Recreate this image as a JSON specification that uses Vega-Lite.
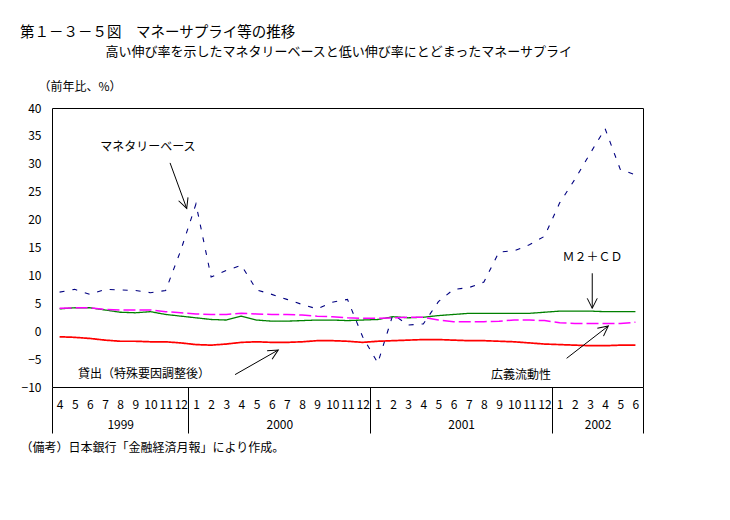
{
  "$schema": "https://vega.github.io/schema/vega-lite/v6.json",
  "width": 591,
  "height": 279,
  "autosize": "none",
  "padding": {"left": 52, "top": 108, "right": 87, "bottom": 133},
  "background": "white",
  "config": {
    "view": {"stroke": "black", "strokeWidth": 1},
    "font": "Noto Sans CJK JP",
    "axis": {"labelFont": "Noto Sans CJK JP", "titleFont": "Noto Sans CJK JP", "labelColor": "black", "titleColor": "black", "labelFontSize": 12, "titleFontWeight": "normal", "titleFontSize": 12},
    "axisY": {
      "title": "（前年比、%）", "titleAngle": 0, "titleAlign": "left", "titleBaseline": "middle",
      "titleX": -14, "titleY": -22,
      "ticks": false, "domain": false, "grid": false, "labelPadding": 11,
      "labelFlush": false, "labelOverlap": false
    }
  },
  "title": {
    "text": "第１－３－５図　マネーサプライ等の推移",
    "anchor": "start",
    "frame": "group",
    "dx": -32,
    "offset": 5,
    "font": "Noto Sans CJK JP",
    "fontSize": 14.5,
    "fontWeight": "normal",
    "color": "black"
  },
  "datasets": {
    "series": [
      {"t": 0, "ym": "1999-04", "mb": 7.0, "m2": 4.0, "broad": 4.1, "loan": -1.0},
      {"t": 1, "ym": "1999-05", "mb": 7.5, "m2": 4.2, "broad": 4.2, "loan": -1.1},
      {"t": 2, "ym": "1999-06", "mb": 6.6, "m2": 4.2, "broad": 4.2, "loan": -1.3},
      {"t": 3, "ym": "1999-07", "mb": 7.5, "m2": 3.8, "broad": 3.9, "loan": -1.6},
      {"t": 4, "ym": "1999-08", "mb": 7.4, "m2": 3.4, "broad": 3.8, "loan": -1.8},
      {"t": 5, "ym": "1999-09", "mb": 7.3, "m2": 3.3, "broad": 3.8, "loan": -1.8},
      {"t": 6, "ym": "1999-10", "mb": 6.9, "m2": 3.5, "broad": 3.8, "loan": -1.9},
      {"t": 7, "ym": "1999-11", "mb": 7.3, "m2": 3.0, "broad": 3.5, "loan": -1.9},
      {"t": 8, "ym": "1999-12", "mb": 14.5, "m2": 2.7, "broad": 3.3, "loan": -2.1},
      {"t": 9, "ym": "2000-01", "mb": 22.8, "m2": 2.4, "broad": 3.1, "loan": -2.4},
      {"t": 10, "ym": "2000-02", "mb": 9.7, "m2": 2.1, "broad": 3.0, "loan": -2.5},
      {"t": 11, "ym": "2000-03", "mb": 10.9, "m2": 2.0, "broad": 3.0, "loan": -2.3},
      {"t": 12, "ym": "2000-04", "mb": 11.8, "m2": 2.7, "broad": 3.2, "loan": -2.0},
      {"t": 13, "ym": "2000-05", "mb": 7.4, "m2": 2.0, "broad": 3.1, "loan": -1.9},
      {"t": 14, "ym": "2000-06", "mb": 6.6, "m2": 1.8, "broad": 3.0, "loan": -2.0},
      {"t": 15, "ym": "2000-07", "mb": 5.7, "m2": 1.8, "broad": 3.0, "loan": -2.0},
      {"t": 16, "ym": "2000-08", "mb": 4.8, "m2": 1.9, "broad": 2.9, "loan": -1.9},
      {"t": 17, "ym": "2000-09", "mb": 4.0, "m2": 2.0, "broad": 2.7, "loan": -1.7},
      {"t": 18, "ym": "2000-10", "mb": 5.2, "m2": 2.0, "broad": 2.6, "loan": -1.7},
      {"t": 19, "ym": "2000-11", "mb": 5.7, "m2": 1.9, "broad": 2.4, "loan": -1.8},
      {"t": 20, "ym": "2000-12", "mb": -1.0, "m2": 2.0, "broad": 2.3, "loan": -2.0},
      {"t": 21, "ym": "2001-01", "mb": -5.7, "m2": 2.1, "broad": 2.3, "loan": -1.8},
      {"t": 22, "ym": "2001-02", "mb": 3.0, "m2": 2.6, "broad": 2.4, "loan": -1.7},
      {"t": 23, "ym": "2001-03", "mb": 1.1, "m2": 2.4, "broad": 2.5, "loan": -1.6},
      {"t": 24, "ym": "2001-04", "mb": 1.3, "m2": 2.5, "broad": 2.5, "loan": -1.5},
      {"t": 25, "ym": "2001-05", "mb": 5.3, "m2": 2.8, "broad": 2.0, "loan": -1.5},
      {"t": 26, "ym": "2001-06", "mb": 7.5, "m2": 3.0, "broad": 1.7, "loan": -1.6},
      {"t": 27, "ym": "2001-07", "mb": 7.8, "m2": 3.2, "broad": 1.7, "loan": -1.7},
      {"t": 28, "ym": "2001-08", "mb": 8.8, "m2": 3.2, "broad": 1.7, "loan": -1.7},
      {"t": 29, "ym": "2001-09", "mb": 14.2, "m2": 3.2, "broad": 1.8, "loan": -1.8},
      {"t": 30, "ym": "2001-10", "mb": 14.4, "m2": 3.2, "broad": 2.0, "loan": -1.9},
      {"t": 31, "ym": "2001-11", "mb": 15.5, "m2": 3.2, "broad": 2.0, "loan": -2.1},
      {"t": 32, "ym": "2001-12", "mb": 17.0, "m2": 3.4, "broad": 1.9, "loan": -2.3},
      {"t": 33, "ym": "2002-01", "mb": 23.0, "m2": 3.6, "broad": 1.5, "loan": -2.4},
      {"t": 34, "ym": "2002-02", "mb": 27.2, "m2": 3.6, "broad": 1.4, "loan": -2.5},
      {"t": 35, "ym": "2002-03", "mb": 31.8, "m2": 3.6, "broad": 1.4, "loan": -2.6},
      {"t": 36, "ym": "2002-04", "mb": 36.3, "m2": 3.5, "broad": 1.4, "loan": -2.6},
      {"t": 37, "ym": "2002-05", "mb": 29.0, "m2": 3.5, "broad": 1.4, "loan": -2.5},
      {"t": 38, "ym": "2002-06", "mb": 28.0, "m2": 3.5, "broad": 1.6, "loan": -2.5}
    ],
    "notes": [
      {"label": "マネタリーベース", "tx": 5.83, "ty": 33.07, "x1": 7.29, "y1": 30.16, "x2": 8.39, "y2": 22.0, "dir": 70},
      {"label": "Ｍ２＋ＣＤ", "tx": 35.17, "ty": 13.35, "x1": 35.15, "y1": 10.38, "x2": 35.15, "y2": 4.1, "dir": 90},
      {"label": "貸出（特殊要因調整後）", "tx": 5.57, "ty": -7.6, "x1": 11.58, "y1": -7.78, "x2": 14.43, "y2": -3.37, "dir": 330},
      {"label": "広義流動性", "tx": 30.45, "ty": -7.85, "x1": 33.46, "y1": -4.86, "x2": 36.21, "y2": 0.93, "dir": 322}
    ]
  },
  "layer": [
    {
      "data": {"name": "series"},
      "transform": [{"fold": ["mb", "m2", "broad", "loan"], "as": ["series", "v"]}],
      "mark": {"type": "line", "interpolate": "linear"},
      "encoding": {
        "x": {
          "field": "t", "type": "quantitative",
          "scale": {"domain": [-0.5, 38.5], "nice": false, "zero": false},
          "axis": {
            "orient": "bottom",
            "title": "高い伸び率を示したマネタリーベースと低い伸び率にとどまったマネーサプライ",
            "titleX": 53, "titleY": -336, "titleAlign": "left", "titleBaseline": "middle", "titleAngle": 0, "titleFontSize": 13,
            "values": [0,1,2,3,4,5,6,7,8,9,10,11,12,13,14,15,16,17,18,19,20,21,22,23,24,25,26,27,28,29,30,31,32,33,34,35,36,37,38,40.21],
            "labelExpr": "datum.value > 39 ? '(月)' : '' + ((datum.value + 3) % 12 + 1)",
            "ticks": false, "domain": false, "grid": false, "labelPadding": 12,
            "labelFlush": false, "labelOverlap": false, "labelBound": false
          }
        },
        "y": {
          "field": "v", "type": "quantitative",
          "scale": {"domain": [-10, 40], "nice": false},
          "axis": {"title": "（前年比、%）", "values": [-10, -5, 0, 5, 10, 15, 20, 25, 30, 35, 40]}
        },
        "color": {
          "field": "series", "type": "nominal", "legend": null,
          "scale": {"domain": ["loan", "broad", "m2", "mb"], "range": ["#ff0000", "#ff00ff", "#008000", "#000080"]}
        },
        "strokeDash": {
          "field": "series", "type": "nominal", "legend": null,
          "scale": {"domain": ["loan", "broad", "m2", "mb"], "range": [[1, 0], [12, 4], [1, 0], [5, 8]]}
        },
        "strokeWidth": {
          "field": "series", "type": "nominal", "legend": null,
          "scale": {"domain": ["loan", "broad", "m2", "mb"], "range": [1.7, 1.1, 1.9, 3.4]}
        }
      }
    },
    {
      "mark": {"type": "rule", "color": "black", "strokeWidth": 1},
      "encoding": {"y": {"datum": 0, "scale": {"domain": [-10, 40], "nice": false}, "axis": {"title": "（前年比、%）", "values": [-10, -5, 0, 5, 10, 15, 20, 25, 30, 35, 40]}}}
    },
    {
      "data": {"name": "notes"},
      "mark": {"type": "rule", "color": "black", "strokeWidth": 1},
      "encoding": {
        "x": {
          "field": "x1", "type": "quantitative",
          "scale": {"domain": [-0.5, 38.5], "nice": false, "zero": false},
          "axis": {
            "orient": "bottom",
            "title": null, "values": [4, 14.5, 26.5, 35.5, 40.21],
            "labelExpr": "datum.value > 39 ? '(年)' : datum.value < 5 ? '1999' : datum.value < 15 ? '2000' : datum.value < 27 ? '2001' : '2002'",
            "ticks": false, "domain": false, "grid": false, "labelPadding": 32,
            "labelFlush": false, "labelOverlap": false, "labelBound": false
          }
        },
        "x2": {"field": "x2"},
        "y": {"field": "y1", "type": "quantitative", "scale": {"domain": [-10, 40], "nice": false}, "axis": {"title": "（前年比、%）", "values": [-10, -5, 0, 5, 10, 15, 20, 25, 30, 35, 40]}},
        "y2": {"field": "y2"}
      }
    },
    {
      "data": {"name": "notes"},
      "mark": {"type": "text", "fontSize": 12, "font": "Noto Sans CJK JP", "align": "center", "baseline": "middle", "color": "black"},
      "encoding": {
        "x": {
          "field": "tx", "type": "quantitative",
          "scale": {"domain": [-0.5, 38.5], "nice": false, "zero": false},
          "axis": {
            "orient": "bottom",
            "title": "（備考）日本銀行「金融経済月報」により作成。", "titleX": -32, "titleY": 60,
            "titleAlign": "left", "titleBaseline": "middle", "titleAngle": 0,
            "values": [-0.5, 8.5, 20.5, 32.5, 38.5],
            "labels": false, "ticks": true, "tickSize": 46, "tickColor": "black", "tickWidth": 1,
            "domain": false, "grid": false
          }
        },
        "y": {"field": "ty", "type": "quantitative", "scale": {"domain": [-10, 40], "nice": false}, "axis": {"title": "（前年比、%）", "values": [-10, -5, 0, 5, 10, 15, 20, 25, 30, 35, 40]}},
        "text": {"field": "label"}
      }
    },
    {
      "data": {"name": "notes"},
      "mark": {"type": "point", "shape": "M -1 -0.5 L 0 0 L -1 0.5", "filled": false, "stroke": "black", "strokeWidth": 1, "size": 400, "opacity": 1},
      "encoding": {
        "x": {"field": "x2", "type": "quantitative", "scale": {"domain": [-0.5, 38.5], "nice": false, "zero": false}, "axis": null},
        "y": {"field": "y2", "type": "quantitative", "scale": {"domain": [-10, 40], "nice": false}, "axis": {"title": "（前年比、%）", "values": [-10, -5, 0, 5, 10, 15, 20, 25, 30, 35, 40]}},
        "angle": {"field": "dir", "type": "quantitative", "scale": null}
      }
    }
  ],
  "resolve": {"scale": {"x": "independent"}, "axis": {"x": "independent"}}
}
